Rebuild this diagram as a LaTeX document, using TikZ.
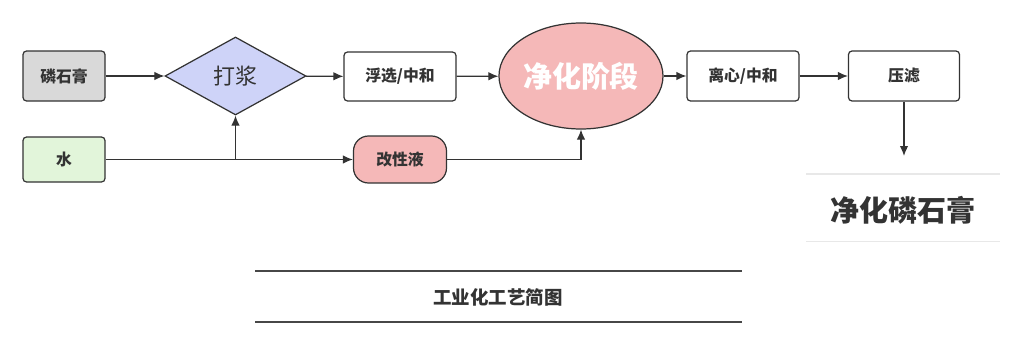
\documentclass[tikz,border=0pt]{standalone}
\usepackage{fontspec}
\usepackage{tikz}
\usetikzlibrary{arrows.meta,calc,positioning,shapes.geometric}
\setmainfont{Noto Sans CJK SC}
\definecolor{SoftGray}{RGB}{217,217,217}
\definecolor{SoftGreen}{RGB}{226,245,218}
\definecolor{SoftBlue}{RGB}{206,211,248}
\definecolor{SoftRed}{RGB}{245,184,184}
\definecolor{LineGray}{RGB}{51,51,51}
\definecolor{RuleGray}{RGB}{232,232,232}
\begin{document}
\begin{tikzpicture}[>={Latex[length=2mm,width=1.7mm]},line width=0.7pt,
  box/.style={draw=LineGray,rounded corners=2pt,minimum width=2.2cm,minimum height=0.98cm,inner sep=0pt,text=LineGray,font=\fontsize{9}{11}\selectfont\bfseries},
  flow/.style={->,draw=LineGray}]
\useasboundingbox (0,0) rectangle (20.48,-6.9);
\node[box,fill=SoftGray,minimum width=1.64cm,minimum height=1.0cm] (p) at (1.28,-1.52) {磷石膏};
\node[box,fill=SoftGreen,minimum width=1.64cm,minimum height=0.9cm] (w) at (1.28,-3.19) {水};
\node[diamond,draw=LineGray,fill=SoftBlue,aspect=1.81,minimum width=2.82cm,minimum height=1.56cm,inner sep=0pt,text=LineGray,font=\fontsize{12.5}{14}\selectfont] (d) at (4.71,-1.52) {打浆};
\node[box,fill=white,minimum width=2.24cm] (f) at (8.0,-1.53) {浮选/中和};
\node[box,fill=SoftRed,rounded corners=0.3cm,minimum width=1.86cm,minimum height=0.94cm] (m) at (8.0,-3.19) {改性液};
\node[ellipse,draw=LineGray,fill=SoftRed,minimum width=2.94cm,minimum height=2.12cm,inner sep=0pt,text=white,font=\fontsize{16.5}{18}\selectfont\bfseries] (e) at (11.62,-1.52) {净化阶段};
\node[box,fill=white,minimum width=2.24cm,minimum height=1.0cm] (c) at (14.86,-1.52) {离心/中和};
\node[box,fill=white,minimum width=2.22cm,minimum height=1.0cm] (y) at (18.08,-1.52) {压滤};
\node[text=LineGray,font=\fontsize{16.5}{18}\selectfont\bfseries] (r) at (18.06,-4.2) {净化磷石膏};
\node[text=LineGray,font=\fontsize{10.5}{12}\selectfont\bfseries] (t) at (9.96,-5.94) {工业化工艺简图};
\coordinate (j) at (d |- w);
\coordinate (o) at (18.08,-3.12);
\draw[flow] (p) -- (d);
\draw[flow] (d) -- (f);
\draw[flow] (f) -- (e);
\draw[flow] (e) -- (c);
\draw[flow] (c) -- (y);
\draw[flow] (y) -- (o);
\draw[flow] (w) -- (m);
\draw[flow] (j) -- (d);
\draw[flow] (m) -| (e);
\draw[RuleGray,line width=0.6pt] (16.12,-3.48) -- (20.0,-3.48) (16.12,-4.83) -- (20.0,-4.83);
\draw[LineGray!90,line width=0.8pt] (5.1,-5.42) -- (14.84,-5.42) (5.1,-6.44) -- (14.84,-6.44);
\end{tikzpicture}
\end{document}
